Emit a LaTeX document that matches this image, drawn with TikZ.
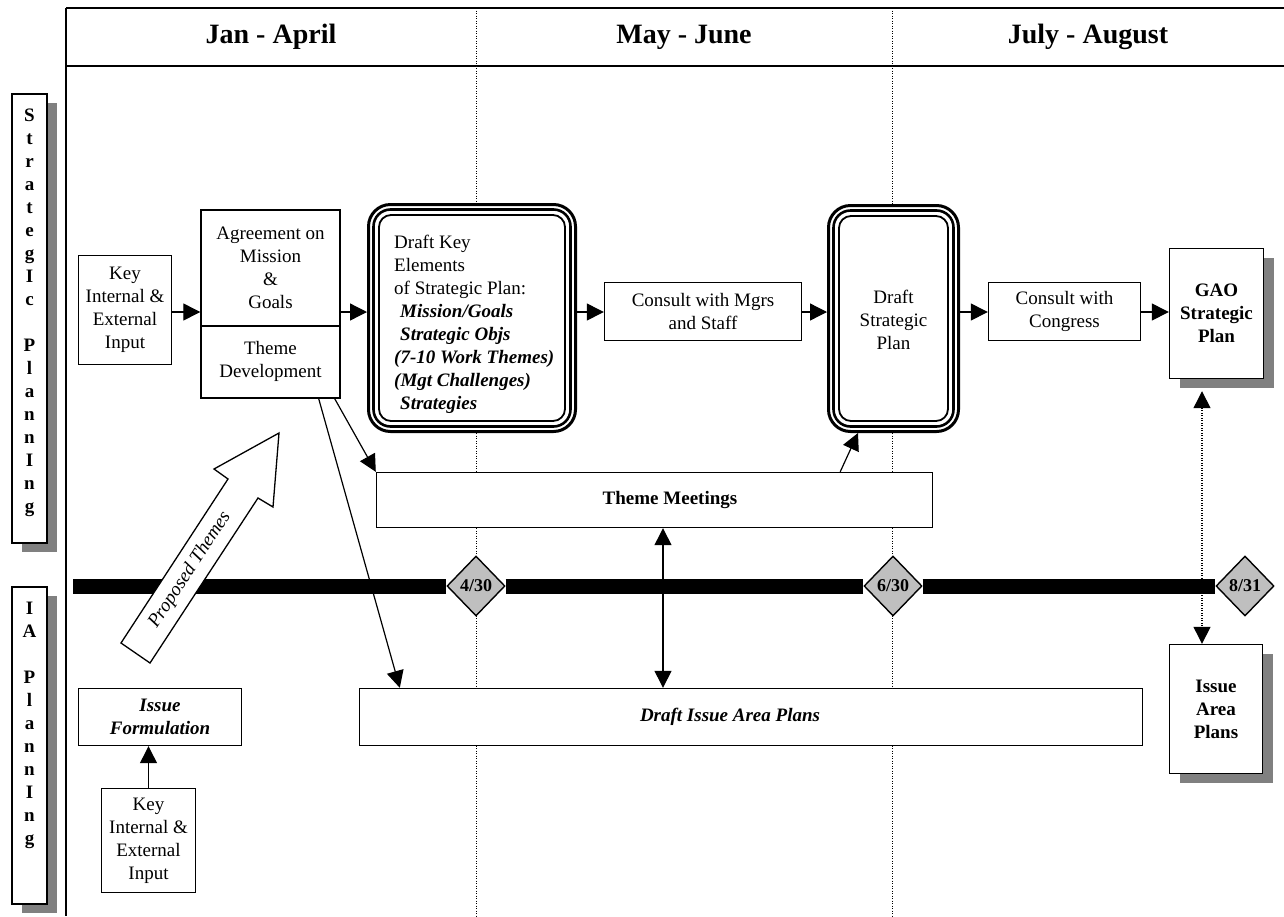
\documentclass[tikz,border=0pt]{standalone}
\usepackage{fontspec}
\setmainfont{Liberation Serif}
\usetikzlibrary{arrows.meta,shapes.geometric,shadows,calc}
\newcommand\bodyfont{\fontsize{19}{23}\selectfont}
\newcommand\headfont{\fontsize{28}{32}\selectfont\bfseries}
\newcommand\datefont{\fontsize{18}{20}\selectfont\bfseries}
\begin{document}
\begin{tikzpicture}[x=1pt,y=-1pt,
  plainbox/.style={draw, line width=1.4pt, fill=white, inner sep=0pt, align=center, font=\bodyfont},
  shadowbox/.style={plainbox, general shadow={fill=gray, shadow xshift=10pt, shadow yshift=-9pt}},
  txt/.style={inner sep=0pt, align=center, font=\bodyfont},
  arr/.style={line width=1.3pt, -{Triangle[length=17pt,width=17pt]}},
  darr/.style={line width=1.3pt, {Triangle[length=17pt,width=17pt]}-{Triangle[length=17pt,width=17pt]}},
  gridline/.style={line width=1pt, dash pattern=on 1pt off 1.5pt},
  timebar/.style={line width=15pt},
  milestone/.style={diamond, draw, line width=1.4pt, fill=gray!50, minimum width=58pt, minimum height=60pt, inner sep=0pt, font=\datefont},
  triouter/.style={draw, line width=3pt, rounded corners=22pt, fill=white, inner sep=0pt, align=center, font=\bodyfont},
  trimid/.style={line width=2.6pt, rounded corners=17pt},
  triinner/.style={line width=1.8pt, rounded corners=12pt}
]
\useasboundingbox (0,0) rectangle (1284,916);
\fill[white] (0,0) rectangle (1284,916);

% column separators
\draw[gridline] (476,8) -- (476,916);
\draw[gridline] (892,8) -- (892,916);

% frame and header
\draw[line width=2pt] (66,8) -- (1284,8);
\draw[line width=2pt] (66,66) -- (1284,66);
\draw[line width=1.5pt] (66,8) -- (66,916);
\node[font=\headfont, inner sep=0pt] (h1) at (271,37) {Jan - April};
\node[font=\headfont, inner sep=0pt] (h2) at (684,37) {May - June};
\node[font=\headfont, inner sep=0pt] (h3) at (1088,37) {July - August};

% side labels
\node[shadowbox, minimum width=35pt, minimum height=449pt] (sp) at (29.5,318.5) {};
\node[txt, font=\bodyfont\bfseries] (sptext) at (29.5,313) {S\\t\\r\\a\\t\\e\\g\\I\\c\\[23pt]P\\l\\a\\n\\n\\I\\n\\g};
\node[shadowbox, minimum width=35pt, minimum height=317pt] (ia) at (29.5,745.5) {};
\node[txt, font=\bodyfont\bfseries] (iatext) at (29.5,725.5) {I\\A\\[23pt]P\\l\\a\\n\\n\\I\\n\\g};

% timeline
\coordinate (tl0) at (73,586);
\node[milestone] (d1) at (476,586) {4/30};
\node[milestone] (d2) at (893,586) {6/30};
\node[milestone] (d3) at (1245,586) {8/31};
\draw[timebar] (tl0) -- (d1.west);
\draw[timebar] (d1.east) -- (d2.west);
\draw[timebar] (d2.east) -- (d3.west);

% top row
\coordinate (rowy) at (0,312);
\node[plainbox, minimum width=93pt, minimum height=109pt] (key1) at (125,310) {Key\\Internal \&\\External\\Input};
\node[plainbox, minimum width=139pt, minimum height=188pt] (agr) at (270.5,304) {};
\coordinate (divy) at (0,326);
\draw[line width=1.4pt] (agr.west |- divy) -- (agr.east |- divy);
\node[txt] (agrtop) at (270.5,268) {Agreement on\\Mission\\\&\\Goals};
\node[txt] (agrbot) at (270.5,361) {Theme\\Development};

\node[triouter, minimum width=207pt, minimum height=227pt] (dk) at (472,318) {};
\draw[trimid] ($(dk.north west)+(6.5,6.5)$) rectangle ($(dk.south east)+(-6.5,-6.5)$);
\draw[triinner] ($(dk.north west)+(12,12)$) rectangle ($(dk.south east)+(-12,-12)$);
\node[anchor=north west, inner sep=0pt, align=left, font=\bodyfont] (dktext) at (394,235)
  {Draft Key\\Elements\\of Strategic Plan:\\
   \hspace*{6pt}\textbf{\textit{Mission/Goals}}\\
   \hspace*{6pt}\textbf{\textit{Strategic Objs}}\\
   \textbf{\textit{(7-10 Work Themes)}}\\
   \textbf{\textit{(Mgt Challenges)}}\\
   \hspace*{6pt}\textbf{\textit{Strategies}}};

\node[plainbox, minimum width=197pt, minimum height=58pt] (cm) at (703,311.5) {Consult with Mgrs\\and Staff};

\node[triouter, minimum width=130pt, minimum height=226pt] (dsp) at (893.5,318.5) {};
\draw[trimid] ($(dsp.north west)+(6.5,6.5)$) rectangle ($(dsp.south east)+(-6.5,-6.5)$);
\draw[triinner] ($(dsp.north west)+(12,12)$) rectangle ($(dsp.south east)+(-12,-12)$);
\node[txt] (dsptext) at (893.5,320) {Draft\\Strategic\\Plan};

\node[plainbox, minimum width=152pt, minimum height=58pt] (cc) at (1064.5,311.5) {Consult with\\Congress};
\node[shadowbox, minimum width=94pt, minimum height=130pt, font=\bodyfont\bfseries] (gao) at (1216.5,313.5) {GAO\\Strategic\\Plan};

\draw[arr] (key1.east |- rowy) -- (agr.west |- rowy);
\draw[arr] (agr.east |- rowy) -- (dk.west |- rowy);
\draw[arr] (dk.east |- rowy) -- (cm.west |- rowy);
\draw[arr] (cm.east |- rowy) -- (dsp.west |- rowy);
\draw[arr] (dsp.east |- rowy) -- (cc.west |- rowy);
\draw[arr] (cc.east |- rowy) -- (gao.west |- rowy);

% middle
\node[plainbox, minimum width=556pt, minimum height=55pt, font=\bodyfont\bfseries] (tm) at (654.5,500) {\hspace*{31pt}Theme Meetings};
\node[plainbox, minimum width=783pt, minimum height=57pt, font=\bodyfont\bfseries\itshape] (dip) at (751,717) {Draft Issue Area Plans\hspace*{42pt}};
\node[shadowbox, minimum width=93pt, minimum height=129pt, font=\bodyfont\bfseries] (iap) at (1216,709) {Issue\\Area\\Plans};

% proposed themes arrow
\draw[line width=1.3pt, fill=white, line join=miter] (121,643) -- (228,479) -- (214,469) -- (279,433) -- (273,507) -- (258,498) -- (150,663) -- cycle;
\node[txt, rotate=56.8, font=\bodyfont\itshape] (pt) at (190,570) {Proposed Themes};

% bottom left
\node[plainbox, minimum width=163pt, minimum height=57pt, font=\bodyfont\bfseries\itshape] (isf) at (160,717) {Issue\\Formulation};
\node[plainbox, minimum width=94pt, minimum height=104pt] (key2) at (148.5,840.5) {Key\\Internal \&\\External\\Input};
\draw[arr] (key2.north) -- (key2.north |- isf.south);

% connectors
\draw[arr, line width=1.2pt] ([xshift=-6pt]agr.south east) -- (tm.north west);
\draw[arr, line width=1.2pt] ([xshift=-22pt]agr.south east) -- ([xshift=41pt]dip.north west);
\draw[arr, line width=1.2pt] ([xshift=-93pt]tm.north east) -- ([xshift=31pt]dsp.south west);
\draw[darr] ([xshift=8.5pt]tm.south) -- ([xshift=8.5pt]tm.south |- dip.north);
\draw[darr, dash pattern=on 1pt off 1.5pt] ([xshift=-14.5pt,yshift=-12pt]gao.south) -- ([xshift=-14pt]iap.north);
\end{tikzpicture}
\end{document}
